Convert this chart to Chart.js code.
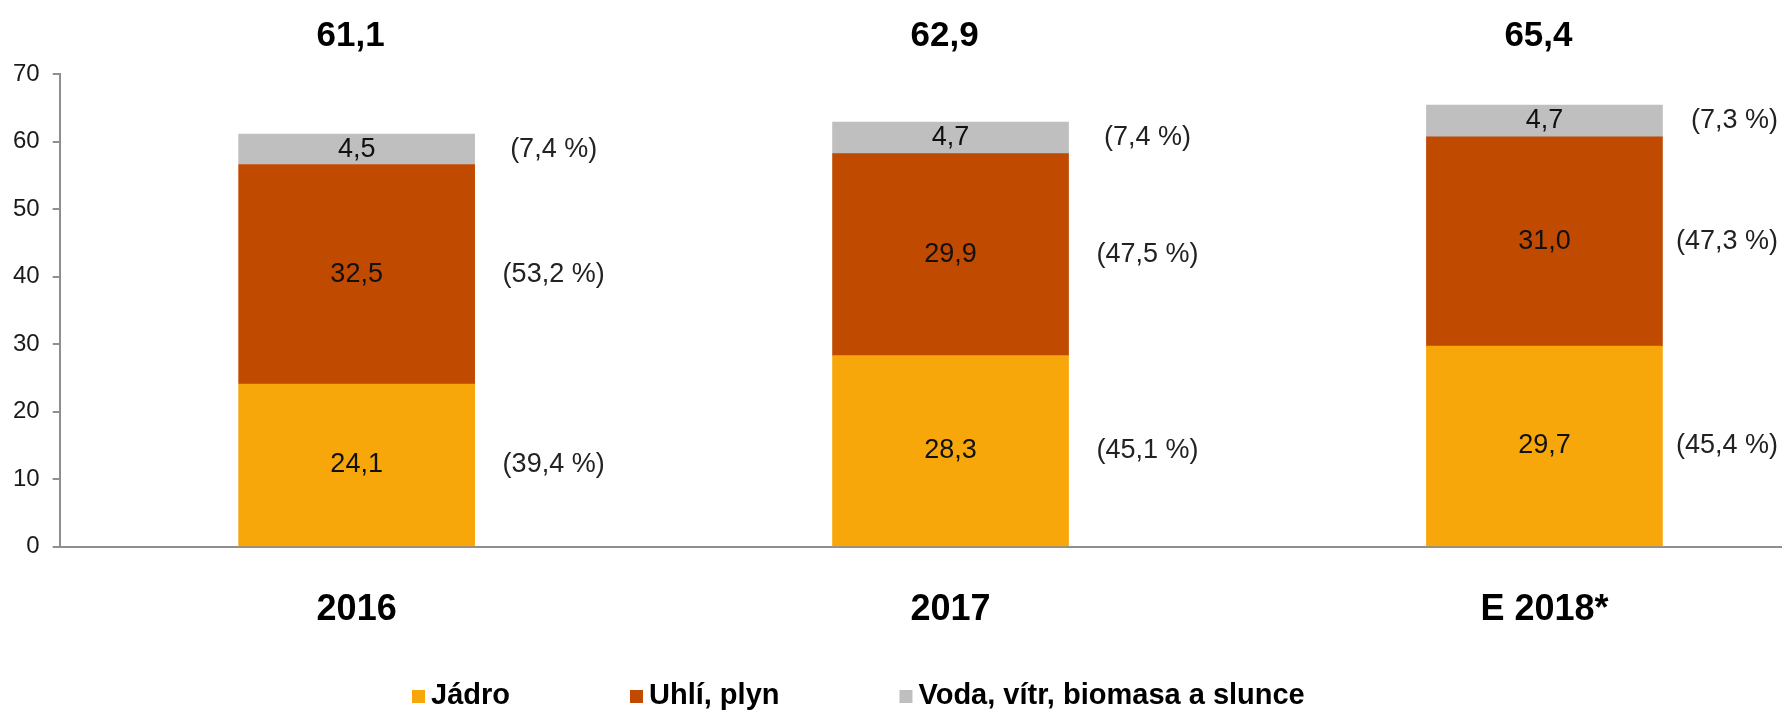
<!DOCTYPE html>
<html>
<head>
<meta charset="utf-8">
<title>Výroba elektřiny</title>
<script src="https://cdn.jsdelivr.net/npm/chart.js@4.4.1/dist/chart.umd.min.js"></script>
<style>
  html, body { margin: 0; padding: 0; background: #fff; overflow: hidden; }
  #wrap { width: 1782px; height: 712px; }
</style>
</head>
<body>
<div id="wrap"><canvas id="chartVyroba"></canvas></div>
<script>
const roky = ['2016', '2017', 'E 2018*'];
const serie = ['Jádro', 'Uhlí, plyn', 'Voda, vítr, biomasa a slunce'];
const jadro = [24.1, 28.3, 29.7];
const uhliPlyn = [32.5, 29.9, 31.0];
const obnovitelne = [4.5, 4.7, 4.7];
const celkem = [61.1, 62.9, 65.4];
const podilJadro = [39.4, 45.1, 45.4];
const podilUhli = [53.2, 47.5, 47.3];
const podilObnov = [7.4, 7.4, 7.3];

const barvy = ['#F7A70A', '#BF4A00', '#BFBFBF'];
const pismo = '"Liberation Sans", Arial, sans-serif';

const hodnoty = [jadro, uhliPlyn, obnovitelne];
const podily = [podilJadro, podilUhli, podilObnov];

const cislo = v => v.toFixed(1).replace('.', ',');

Chart.defaults.font.family = pismo;

// popisky v sloupcich, podily vpravo, soucty nahore a legenda dole
const popisky = {
    id: 'popisky',
    afterDatasetsDraw(chart) {
        const ctx = chart.ctx;
        const prava = chart.chartArea.right;
        ctx.save();
        ctx.textAlign = 'center';
        ctx.textBaseline = 'middle';
        ctx.font = '27px ' + pismo;
        chart.data.datasets.forEach((ds, di) => {
            chart.getDatasetMeta(di).data.forEach((bar, i) => {
                const stred = (bar.y + bar.base) / 2;
                const text = '(' + cislo(podily[di][i]) + ' %)';
                const pul = ctx.measureText(text).width / 2;
                ctx.fillStyle = '#111';
                ctx.fillText(cislo(hodnoty[di][i]), bar.x, stred);
                ctx.fillStyle = '#222';
                ctx.fillText(text, Math.min(bar.x + bar.width / 2 + 79, prava - pul - 4), stred);
            });
        });

        ctx.fillStyle = '#000';
        ctx.font = 'bold 35px ' + pismo;
        celkem.forEach((v, i) => {
            ctx.fillText(cislo(v), chart.scales.x.getPixelForValue(i) - 6, 36);
        });

        ctx.textAlign = 'left';
        ctx.textBaseline = 'alphabetic';
        ctx.font = 'bold 29px ' + pismo;
        let x = 412;
        chart.data.datasets.forEach(ds => {
            ctx.fillStyle = ds.backgroundColor;
            ctx.fillRect(x, 690, 13, 13);
            ctx.fillStyle = '#000';
            ctx.fillText(ds.label, x + 19, 704);
            x += 19 + ctx.measureText(ds.label).width + 120;
        });
        ctx.restore();
    }
};

new Chart(document.getElementById('chartVyroba').getContext('2d'), {
    type: 'bar',
    data: {
        datasets: hodnoty.map((rada, di) => ({
            label: serie[di],
            data: rada.map((v, i) => ({ x: i, y: v })),
            backgroundColor: barvy[di],
            borderWidth: 0,
            barThickness: 236
        }))
    },
    options: {
        responsive: true,
        maintainAspectRatio: false,
        animation: false,
        layout: { padding: { top: 74, left: 0, right: 0, bottom: 38 } },
        plugins: {
            legend: { display: false },
            tooltip: { enabled: false }
        },
        scales: {
            x: {
                type: 'linear',
                min: -0.5,
                max: 2.4,
                stacked: true,
                offset: false,
                afterBuildTicks: s => { s.ticks = roky.map((_, i) => ({ value: i })); },
                grid: { display: false, drawTicks: false },
                border: { display: true, color: '#8f8f8f', width: 2 },
                ticks: {
                    callback: v => roky[v],
                    padding: 42,
                    autoSkip: false,
                    maxRotation: 0,
                    color: '#000',
                    font: { size: 36, weight: 'bold' }
                }
            },
            y: {
                stacked: true,
                min: 0,
                max: 70,
                grid: { drawOnChartArea: false, drawTicks: true, tickLength: 7, color: '#8f8f8f', lineWidth: 2 },
                border: { color: '#8f8f8f', width: 2 },
                ticks: { stepSize: 10, padding: 13, color: '#1a1a1a', font: { size: 24 } }
            }
        }
    },
    plugins: [popisky]
});
</script>
</body>
</html>
